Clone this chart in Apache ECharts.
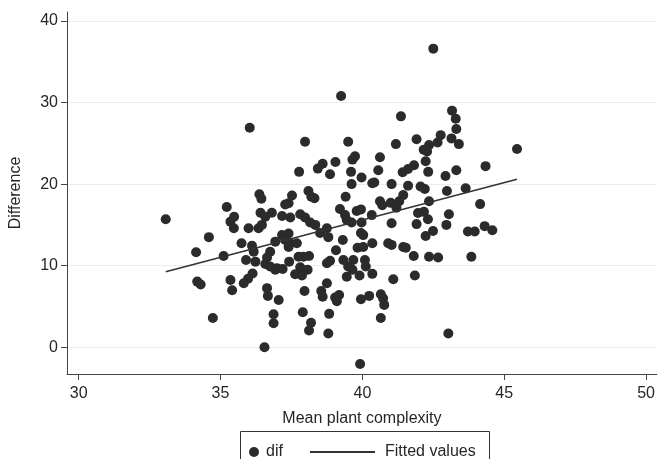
<!DOCTYPE html>
<html>
<head>
<meta charset="utf-8">
<script src="https://cdn.jsdelivr.net/npm/echarts@6/dist/echarts.min.js"></script>
<style>
html,body{margin:0;padding:0;background:#fff;}
#chart{width:658px;height:459px;}
</style>
</head>
<body>
<div id="chart"></div>
<script>
// mean plant complexity (x) and difference (y)
const complexity=[
36.03,36.37,36.44,35.22,35.48,36.41,36.58,36.81,33.07,35.35,
35.47,35.99,36.34,36.46,34.59,34.14,35.11,35.74,36.11,36.17,
35.9,36.23,36.75,36.64,36.58,36.75,36.93,34.18,34.3,35.35,
35.41,36.13,35.97,35.82,36.64,36.67,37.05,36.87,36.87,34.73,
36.55,39.25,37.98,39.5,40.62,39.74,39.65,39.05,38.6,38.43,
38.86,37.77,39.6,40.56,39.97,40.42,40.35,39.62,41.03,38.1,
38.2,38.31,37.52,37.4,37.28,39.41,40.62,40.7,41.0,39.21,
39.8,39.95,39.39,40.33,37.17,37.46,37.81,37.98,38.16,38.34,
38.75,38.51,37.17,37.4,37.28,37.46,37.69,37.4,36.93,38.8,
39.31,39.07,39.45,39.62,39.97,39.95,40.03,40.35,39.83,40.03,
40.91,41.03,41.03,37.75,37.92,38.12,37.42,36.99,37.19,37.81,
38.07,37.63,37.87,38.75,38.86,39.33,39.68,39.5,39.65,40.09,
40.12,39.45,39.9,40.35,41.09,38.75,37.96,38.55,38.6,39.04,
39.18,39.1,39.95,40.24,40.65,40.73,40.77,40.65,37.9,38.83,
38.19,38.12,38.8,39.92,41.36,43.16,43.29,43.31,43.14,43.4,
45.45,42.76,42.65,41.18,41.91,42.35,42.16,42.28,42.23,41.82,
41.61,41.42,42.32,42.93,43.31,44.34,41.61,42.05,42.2,42.98,
43.64,41.44,41.3,41.2,42.35,44.15,41.96,42.17,42.31,43.05,
41.91,42.96,42.49,42.23,43.72,43.96,44.31,44.58,41.44,41.53,
41.81,42.35,42.67,43.84,41.85,43.03,42.5
];
const difference=[
26.9,18.75,18.2,17.2,16.0,16.5,16.0,16.5,15.7,15.4,
14.6,14.6,14.6,15.0,13.5,11.65,11.2,12.75,12.45,11.7,
10.7,10.5,11.7,11.0,10.2,9.9,9.5,8.05,7.7,8.25,
7.0,9.05,8.4,7.85,7.25,6.3,5.8,4.05,2.95,3.6,
0.0,30.8,25.2,25.2,23.3,23.4,23.0,22.7,22.5,21.9,
21.2,21.5,21.5,21.7,20.8,20.2,20.1,20.0,20.0,19.15,
18.45,18.26,18.6,17.65,17.5,18.45,17.9,17.4,17.7,16.95,
16.7,16.9,16.2,16.2,16.1,15.9,16.3,15.9,15.3,15.0,
14.6,14.0,13.75,13.95,13.15,12.75,12.75,12.3,12.95,13.5,
13.15,11.9,15.6,15.3,15.3,14.0,13.75,12.75,12.2,12.3,
12.75,12.55,15.2,11.1,11.1,11.2,10.5,9.7,9.6,9.8,
9.5,8.95,8.8,10.3,10.6,10.7,10.7,9.9,9.5,10.7,
9.9,8.65,8.8,9.0,8.35,7.85,6.9,6.9,6.2,6.1,
6.4,5.65,5.9,6.3,6.5,6.0,5.2,3.6,4.3,4.1,
3.0,2.05,1.7,-2.05,28.3,29.0,28.0,26.75,25.6,24.9,
24.3,26.0,25.1,24.9,25.5,24.8,24.2,24.0,22.8,22.3,
21.85,21.45,21.5,21.0,21.7,22.2,19.8,19.7,19.4,19.15,
19.5,18.65,17.9,17.1,17.9,17.55,16.45,16.6,15.7,16.3,
15.1,15.0,14.25,13.65,14.2,14.2,14.85,14.35,12.3,12.2,
11.2,11.1,11.0,11.1,8.8,1.7,36.6
];
// fitted line end points
const fitX=[33.07,45.45];
const fitY=[9.27,20.6];
const xTicks=[30,35,40,45,50];
const yTicks=[0,10,20,30,40];

const font='"Liberation Sans", Arial, sans-serif';
const ink='#262626';

const chart=echarts.init(document.getElementById('chart'),null,{renderer:'canvas'});
chart.setOption({
    backgroundColor:'#fff',
    animation:false,
    grid:{left:66,right:0,top:12,bottom:85},
    xAxis:{
        type:'value',min:29.59,max:50.38,
        name:'Mean plant complexity',nameLocation:'middle',nameGap:37,
        nameTextStyle:{color:ink,fontSize:16,fontFamily:font},
        axisLine:{show:true,onZero:false,lineStyle:{color:'#444',width:1}},
        axisTick:{show:true,length:6,customValues:xTicks,lineStyle:{color:'#444'}},
        axisLabel:{customValues:xTicks,color:ink,fontSize:16,fontFamily:font,margin:12},
        splitLine:{show:false}
    },
    yAxis:{
        type:'value',min:-3.27,max:41.09,
        name:'Difference',nameLocation:'middle',nameGap:43,
        nameTextStyle:{color:ink,fontSize:16,fontFamily:font},
        axisLine:{show:true,onZero:false,lineStyle:{color:'#444',width:1}},
        axisTick:{show:true,length:6,customValues:yTicks,lineStyle:{color:'#444'}},
        axisLabel:{customValues:yTicks,color:ink,fontSize:16,fontFamily:font,margin:9},
        splitLine:{show:true,lineStyle:{color:'#ececec',width:1}}
    },
    legend:[
        {data:[{name:'dif',icon:'circle'}],left:244,top:439,itemWidth:10,itemHeight:10,
         textStyle:{color:ink,fontSize:16,fontFamily:font,padding:[0,0,0,2]}},
        {data:[{name:'Fitted values',icon:'path://M0,0L65,0L65,2L0,2Z'}],left:305,top:439,itemWidth:65,itemHeight:2,
         textStyle:{color:ink,fontSize:16,fontFamily:font,padding:[0,0,0,5]}}
    ],
    graphic:[{
        type:'rect',left:238,top:429,shape:{width:249,height:40},
        style:{fill:'none',stroke:'#333',lineWidth:1},silent:true
    }],
    series:[
        {
            name:'dif',type:'scatter',symbol:'circle',symbolSize:10,
            itemStyle:{color:'#2b2b2b',opacity:1},
            data:complexity.map((x,i)=>[x,difference[i]])
        },
        {
            name:'Fitted values',type:'line',symbol:'none',
            lineStyle:{color:'#333',width:1.6},itemStyle:{color:'#333'},
            data:fitX.map((x,i)=>[x,fitY[i]])
        }
    ]
});
</script>
</body>
</html>
